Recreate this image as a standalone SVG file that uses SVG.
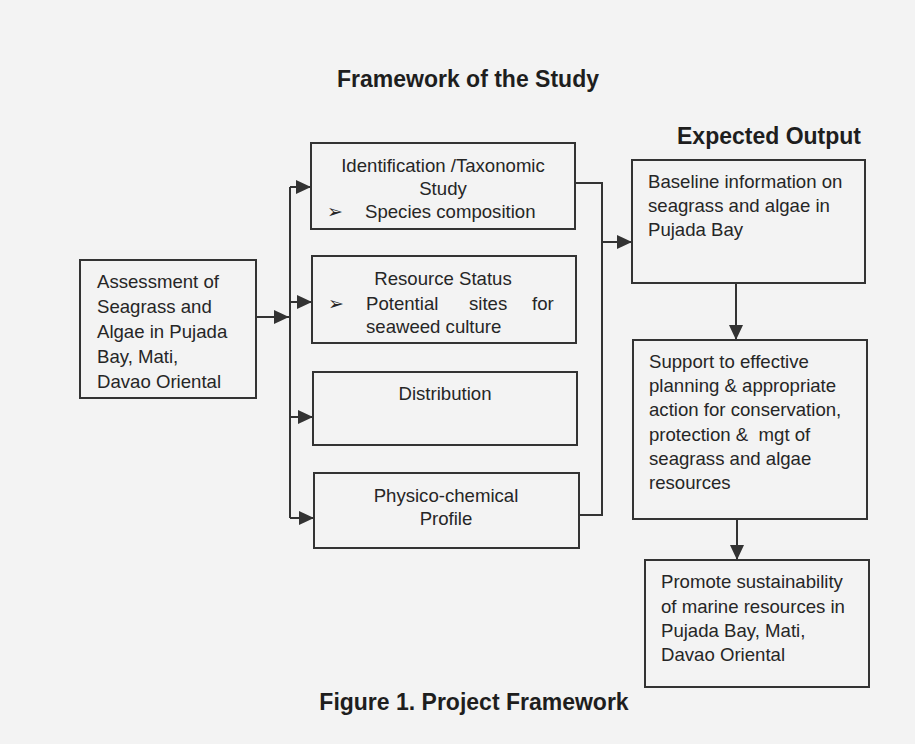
<svg xmlns="http://www.w3.org/2000/svg" width="915" height="744" viewBox="0 0 915 744">
<defs>
<style>
.box{fill:none;stroke:#333;stroke-width:2}
.ln{fill:none;stroke:#333;stroke-width:2}
.t{font-family:"Liberation Sans",Arial,sans-serif;font-size:18.6px;fill:#262626}
.c{text-anchor:middle}
.h{font-family:"Liberation Sans",Arial,sans-serif;font-size:23px;font-weight:bold;fill:#1e1e1e}
.b{font-family:"DejaVu Sans",sans-serif;font-size:19px;fill:#262626}
</style>
<marker id="ah" markerUnits="userSpaceOnUse" markerWidth="16" markerHeight="14" refX="15" refY="7" orient="auto">
<path d="M0,0 L15,7 L0,14 Z" fill="#333"/>
</marker>
</defs>
<rect width="915" height="744" fill="#f3f3f3"/>
<text class="h c" x="468" y="87">Framework of the Study</text>
<text class="h" x="677" y="144">Expected Output</text>
<text class="h c" x="474" y="710">Figure 1. Project Framework</text>

<g id="connectors">
<line class="ln" x1="256" y1="317" x2="289" y2="317" marker-end="url(#ah)"/>
<line class="ln" x1="290" y1="187" x2="290" y2="518"/>
<line class="ln" x1="290" y1="187" x2="311" y2="187" marker-end="url(#ah)"/>
<line class="ln" x1="290" y1="302" x2="312" y2="302" marker-end="url(#ah)"/>
<line class="ln" x1="290" y1="417" x2="313" y2="417" marker-end="url(#ah)"/>
<line class="ln" x1="290" y1="518" x2="314" y2="518" marker-end="url(#ah)"/>
<polyline class="ln" points="575,183 602,183 602,515 579,515"/>
<line class="ln" x1="602" y1="242" x2="632" y2="242" marker-end="url(#ah)"/>
<line class="ln" x1="736" y1="283" x2="736" y2="340" marker-end="url(#ah)"/>
<line class="ln" x1="737" y1="519" x2="737" y2="560" marker-end="url(#ah)"/>
</g>

<g id="assessment">
<rect class="box" x="80" y="260" width="176" height="138"/>
<text class="t" x="97" y="288">Assessment of</text>
<text class="t" x="97" y="313">Seagrass and</text>
<text class="t" x="97" y="338">Algae in Pujada</text>
<text class="t" x="97" y="363">Bay, Mati,</text>
<text class="t" x="97" y="388">Davao Oriental</text>
</g>

<g id="identification">
<rect class="box" x="311" y="143" width="264" height="86"/>
<text class="t c" x="443" y="172">Identification /Taxonomic</text>
<text class="t c" x="443" y="195">Study</text>
<text class="b" x="327" y="218">➢</text>
<text class="t" x="365" y="218">Species composition</text>
</g>

<g id="resource">
<rect class="box" x="312" y="256" width="264" height="87"/>
<text class="t c" x="443" y="285">Resource Status</text>
<text class="b" x="328" y="310">➢</text>
<text class="t" x="366" y="310">Potential</text>
<text class="t" x="469" y="310">sites</text>
<text class="t" x="532" y="310">for</text>
<text class="t" x="366" y="333">seaweed culture</text>
</g>

<g id="distribution">
<rect class="box" x="313" y="372" width="264" height="73"/>
<text class="t c" x="445" y="400">Distribution</text>
</g>

<g id="physico">
<rect class="box" x="314" y="473" width="265" height="75"/>
<text class="t c" x="446" y="502">Physico-chemical</text>
<text class="t c" x="446" y="525">Profile</text>
</g>

<g id="baseline">
<rect class="box" x="632" y="160" width="233" height="123"/>
<text class="t" x="648" y="188">Baseline information on</text>
<text class="t" x="648" y="212">seagrass and algae in</text>
<text class="t" x="648" y="236">Pujada Bay</text>
</g>

<g id="support">
<rect class="box" x="633" y="340" width="234" height="179"/>
<text class="t" x="649" y="368">Support to effective</text>
<text class="t" x="649" y="392">planning &amp; appropriate</text>
<text class="t" x="649" y="416">action for conservation,</text>
<text class="t" x="649" y="441" xml:space="preserve">protection &amp;  mgt of</text>
<text class="t" x="649" y="465">seagrass and algae</text>
<text class="t" x="649" y="489">resources</text>
</g>

<g id="promote">
<rect class="box" x="645" y="560" width="224" height="127"/>
<text class="t" x="661" y="588">Promote sustainability</text>
<text class="t" x="661" y="613">of marine resources in</text>
<text class="t" x="661" y="637">Pujada Bay, Mati,</text>
<text class="t" x="661" y="661">Davao Oriental</text>
</g>
</svg>
